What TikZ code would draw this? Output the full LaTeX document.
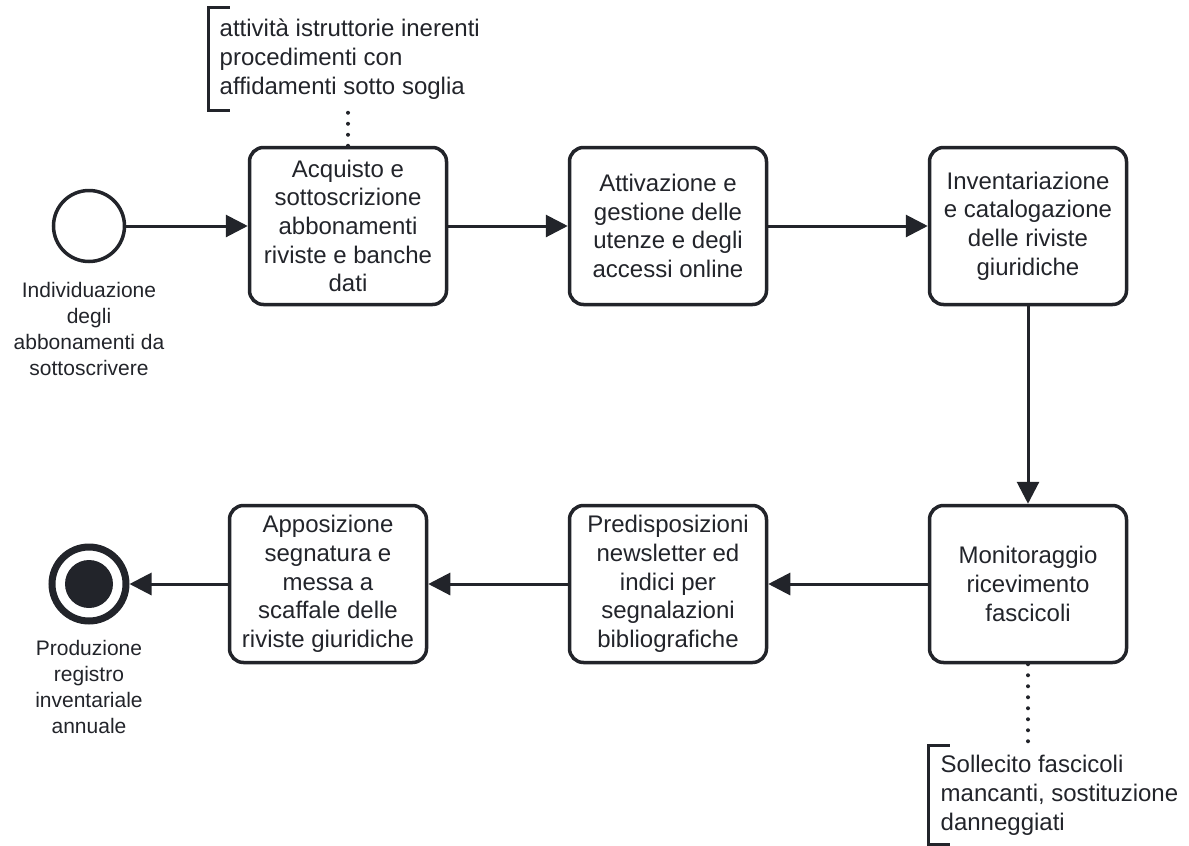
\documentclass[tikz,border=0pt]{standalone}
\usepackage{fontspec}
\setmainfont{Liberation Sans}
\usepackage{xcolor}
\usepackage{tikz}
\usetikzlibrary{arrows.meta,shapes,positioning}
\definecolor{ink}{RGB}{34,36,42}

\begin{document}
\begin{tikzpicture}
			[x=1pt, y=-1pt,
			task/.style={rectangle, rounded corners=14pt, draw=ink, line width=3.5pt, minimum width=197pt, minimum height=157pt, inner sep=0pt, align=center, text=ink, font=\fontsize{24}{28.7}\selectfont},
			event/.style={circle, draw=ink, line width=3.5pt, minimum size=71pt, inner sep=0pt},
			endevent/.style={circle, draw=ink, line width=7pt, minimum size=74pt, inner sep=0pt},
			evlabel/.style={align=center, text=ink, font=\fontsize{21}{26}\selectfont},
			note/.style={anchor=north west, align=left, inner xsep=11pt, inner ysep=0pt, text=ink, font=\fontsize{24}{28.7}\selectfont},
			bracket/.style={draw=ink, line width=3pt},
			flow/.style={-{Triangle[length=22pt,width=22pt]}, draw=ink, line width=3pt},
			link/.style={draw=ink, line width=4pt, line cap=round, dash pattern=on 0pt off 11pt},] 
			\useasboundingbox (0,0) rectangle (1189,846);

          	% events
          	\node[event] (start) at (89, 226) {};
          	\node[evlabel] (startlbl) at (89, 329) {Individuazione\\degli\\abbonamenti da\\sottoscrivere};
          	\node[endevent] (end) at (89, 584) {};
          	\fill[ink] (end.center) circle (24pt);
          	\node[evlabel] (endlbl) at (89, 687) {Produzione\\registro\\inventariale\\annuale};

          	% tasks
          	\node[task] (T1) at (348, 226) {Acquisto e\\sottoscrizione\\abbonamenti\\riviste e banche\\dati}; 
          	\node[task] (T2) at (668, 226) {Attivazione e\\gestione delle\\utenze e degli\\accessi online}; 
          	\node[task] (T3) at (1028, 226) {Inventariazione\\e catalogazione\\delle riviste\\giuridiche}; 
          	\node[task] (T4) at (1028, 584) {Monitoraggio\\ricevimento\\fascicoli}; 
          	\node[task] (T5) at (668, 584) {Predisposizioni\\newsletter ed\\indici per\\segnalazioni\\bibliografiche}; 
          	\node[task] (T6) at (328, 584) {Apposizione\\segnatura e\\messa a\\scaffale delle\\riviste giuridiche}; 

          	% annotations
          	\node[note, minimum height=103pt] (N1) at (208.5, 7.5) {attività istruttorie inerenti\\procedimenti con\\affidamenti sotto soglia};
          	\node[note, minimum height=99pt, inner xsep=12pt] (N2) at (928.5, 745.5) {Sollecito fascicoli\\mancanti, sostituzione\\danneggiati};
          	\draw[bracket] ([xshift=21pt]N1.north west) -- (N1.north west) -- (N1.south west) -- ([xshift=21pt]N1.south west);
          	\draw[bracket] ([xshift=21pt]N2.north west) -- (N2.north west) -- (N2.south west) -- ([xshift=21pt]N2.south west);
          	\draw[link] (T1.north) -- (T1.north |- N1.south);
          	\draw[link] (T4.south) -- (T4.south |- N2.north);

          	% sequence flows
            \draw[flow] (start) -- (T1.west); 
            \draw[flow] (T1.east) -- (T2.west); 
            \draw[flow] (T2.east) -- (T3.west); 
            \draw[flow] (T3.south) -- (T4.north); 
            \draw[flow] (T4.west) -- (T5.east); 
            \draw[flow] (T5.west) -- (T6.east); 
            \draw[flow] (T6.west) -- (end); 
			\end{tikzpicture}
\end{document}
